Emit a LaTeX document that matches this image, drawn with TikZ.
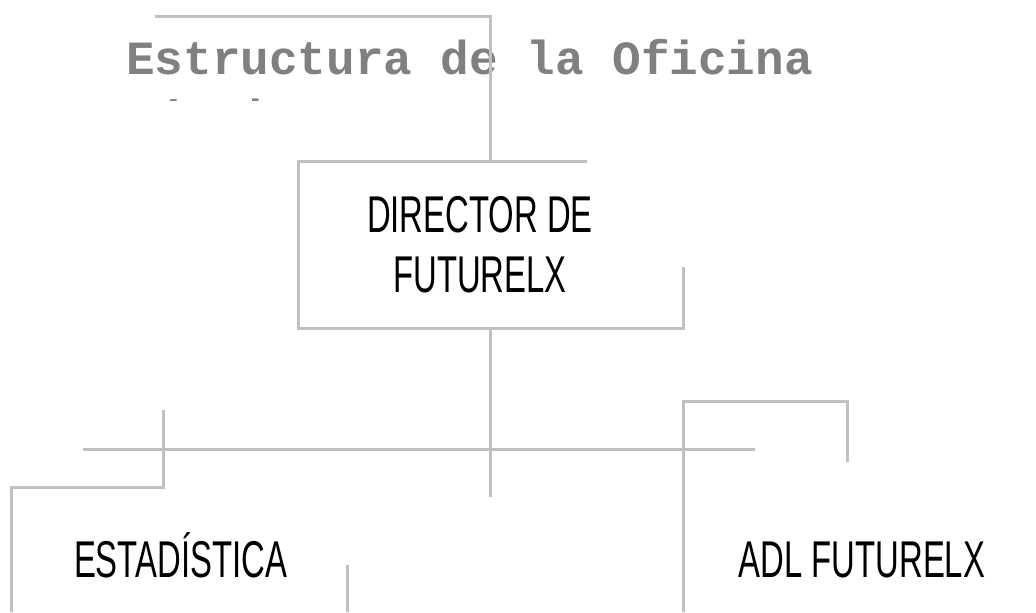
\documentclass[tikz,border=0pt]{standalone}
\usepackage{fontspec}
\setmainfont{Liberation Sans}
\newfontfamily\condfont[FakeStretch=0.635]{Liberation Sans}
\newfontfamily\titlefont{Liberation Mono}
\definecolor{linegray}{HTML}{C0C0C0}
\definecolor{titlegray}{HTML}{808080}
\begin{document}
\begin{tikzpicture}[x=0.75pt,y=-0.75pt,
  conn/.style={draw=linegray,line width=2.25pt,line join=miter,line cap=butt},
  unitlabel/.style={inner sep=0pt,anchor=base,font=\condfont\fontsize{38.8}{45}\selectfont,text=black},
  titlelabel/.style={inner sep=0pt,anchor=base west,text=titlegray,
    font=\titlefont\bfseries\fontsize{35.75}{40.5}\selectfont}]
\useasboundingbox (0,0) rectangle (1036,612);
\fill[white] (0,0) rectangle (1036,612);
% title (second line cut off, as in the reference)
\begin{scope}
  \clip (0,0) rectangle (1036,100);
  \node[titlelabel] (title) at (126,74) {Estructura de la Oficina};
  \node[titlelabel] (title2) at (126,133) {Técnica};
\end{scope}
% labels
\node[unitlabel] (dir1) at (480,232) {DIRECTOR DE};
\node[unitlabel] (dir2) at (480,292) {FUTURELX};
\node[unitlabel] (est) at (180.5,577) {ESTADÍSTICA};
\node[unitlabel] (adl) at (862,577) {ADL FUTURELX};
% coordinates
\coordinate (t1) at (155,16);
\coordinate (t2) at (490,16);
\coordinate (t3) at (490,161);
\coordinate (b1) at (587,161);
\coordinate (b2) at (298,161);
\coordinate (b3) at (298,328);
\coordinate (b4) at (683,328);
\coordinate (b5) at (683,267);
\coordinate (c1) at (490,328);
\coordinate (c2) at (490,497);
\coordinate (h1) at (83,449);
\coordinate (h2) at (755,449);
\coordinate (l1) at (163,410);
\coordinate (l2) at (163,487);
\coordinate (l3) at (11,487);
\coordinate (l4) at (11,612);
\coordinate (m1) at (347,565);
\coordinate (m2) at (347,612);
\coordinate (r1) at (683,612);
\coordinate (r2) at (683,401);
\coordinate (r3) at (847,401);
\coordinate (r4) at (847,462);
% connectors
\draw[conn] (t1) -- (t2) -- (t3);
\draw[conn] (b1) -- (b2) -- (b3) -- (b4) -- (b5);
\draw[conn] (c1) -- (c2);
\draw[conn] (h1) -- (h2);
\draw[conn] (l1) -- (l2) -- (l3) -- (l4);
\draw[conn] (m1) -- (m2);
\draw[conn] (r1) -- (r2) -- (r3) -- (r4);
\end{tikzpicture}
\end{document}
